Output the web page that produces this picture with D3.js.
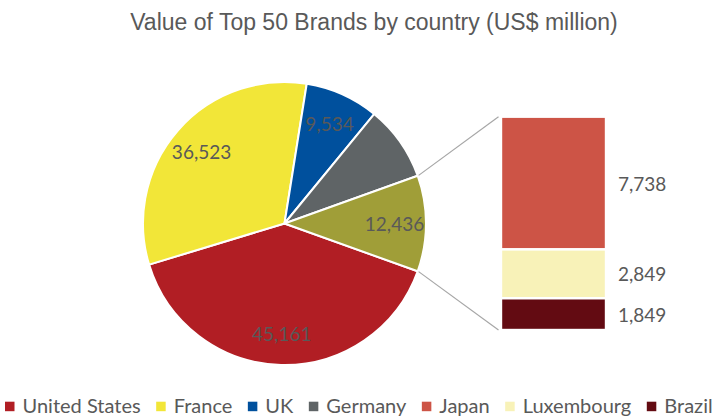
<!DOCTYPE html>
<html>
<head>
<meta charset="utf-8">
<script src="https://cdn.jsdelivr.net/npm/d3@7"></script>
<style>
  html, body { margin: 0; padding: 0; background: #fff; }
  svg { display: block; }
</style>
</head>
<body>
<svg id="chart" width="720" height="420"></svg>
<script>
// ---- data ----
const title = "Value of Top 50 Brands by country (US$ million)";
const pieCategories = ["United States", "France", "UK", "Germany", "Other"];
const pieValues = [45161, 36523, 9534, 9750, 12436];
const pieColors = ["#B11E24", "#F2E638", "#00509D", "#5F6466", "#A09E38"];
const pieLabelShown = [true, true, true, false, true];

const barCategories = ["Japan", "Luxembourg", "Brazil"];
const barValues = [7738, 2849, 1849];
const barColors = ["#CD5446", "#F8F2B8", "#630B12"];

const legendCategories = ["United States", "France", "UK", "Germany", "Japan", "Luxembourg", "Brazil"];
const legendColors = ["#B11E24", "#F2E638", "#00509D", "#5F6466", "#CD5446", "#F8F2B8", "#630B12"];

// ---- layout ----
const svg = d3.select("#chart");
const textColor = "#595959";
const fmt = d3.format(",");

svg.append("text")
  .attr("x", 374).attr("y", 30)
  .attr("text-anchor", "middle")
  .attr("font-family", "'Liberation Sans', Arial, sans-serif")
  .attr("font-size", 23)
  .attr("fill", textColor)
  .text(title);

// pie
const cx = 284.5, cy = 223.5, R = 141.5;
const total = d3.sum(pieValues);
const otherIdx = pieValues.length - 1;
const half = Math.PI * pieValues[otherIdx] / total;
const start = Math.PI / 2 + half;
const pie = d3.pie().sort(null).value(d => d).startAngle(start).endAngle(start + 2 * Math.PI);
const arcs = pie(pieValues);
const arc = d3.arc().innerRadius(0).outerRadius(R);
const labelArc = d3.arc().innerRadius(110).outerRadius(110);

const g = svg.append("g").attr("transform", `translate(${cx},${cy})`);
g.selectAll("path.slice").data(arcs).join("path")
  .attr("class", "slice")
  .attr("d", arc)
  .attr("fill", (d, i) => pieColors[i])
  .attr("stroke", "#fff")
  .attr("stroke-width", 2)
  .attr("stroke-linejoin", "round");

g.selectAll("text.lbl").data(arcs.filter((d, i) => pieLabelShown[i])).join("text")
  .attr("class", "lbl")
  .attr("transform", d => `translate(${labelArc.centroid(d)})`)
  .attr("text-anchor", "middle")
  .attr("dominant-baseline", "central")
  .attr("font-family", "Lato, 'Open Sans', sans-serif")
  .attr("font-size", 19)
  .attr("fill", textColor)
  .text(d => fmt(d.value));

// bar of "Other"
const barX = 501, barW = 105;
const barScale = d3.scaleLinear().domain([0, d3.sum(barValues)]).range([116.7, 330]);
const cum = d3.cumsum(barValues);
const barData = barValues.map((v, i) => ({ v, y0: cum[i] - v, y1: cum[i], i }));

svg.selectAll("rect.bar").data(barData).join("rect")
  .attr("class", "bar")
  .attr("x", barX)
  .attr("y", d => barScale(d.y0))
  .attr("width", barW)
  .attr("height", d => barScale(d.y1) - barScale(d.y0))
  .attr("fill", d => barColors[d.i])
  .attr("stroke", "#fff")
  .attr("stroke-width", 2.4);

svg.selectAll("text.barlbl").data(barData).join("text")
  .attr("class", "barlbl")
  .attr("x", barX + barW + 12)
  .attr("y", d => (barScale(d.y0) + barScale(d.y1)) / 2)
  .attr("dominant-baseline", "central")
  .attr("font-family", "Lato, 'Open Sans', sans-serif")
  .attr("font-size", 19)
  .attr("fill", textColor)
  .text(d => fmt(d.v));

// connector lines
const oa = arcs[otherIdx];
const ptOnPie = a => [cx + (R + 1) * Math.sin(a), cy - (R + 1) * Math.cos(a)];
const topStart = ptOnPie(oa.startAngle);
const botStart = ptOnPie(oa.endAngle);
const conns = [
  [topStart, [barX - 2.5, barScale(0)]],
  [botStart, [barX - 2.5, barScale(d3.sum(barValues))]]
];
svg.selectAll("line.conn").data(conns).join("line")
  .attr("class", "conn")
  .attr("x1", d => d[0][0]).attr("y1", d => d[0][1])
  .attr("x2", d => d[1][0]).attr("y2", d => d[1][1])
  .attr("stroke", "#A6A6A6")
  .attr("stroke-width", 1.2);

// legend: fit the row into the reference span (x 5 .. 713)
const legLeft = 5, legRight = 713, sq = 9.5, sqGap = 8, itemGap = 15.5;
const leg = svg.append("g");
const items = leg.selectAll("g.item").data(legendCategories).join("g").attr("class", "item");
items.append("rect")
  .attr("width", sq).attr("height", sq)
  .attr("y", 401.7)
  .attr("fill", (d, i) => legendColors[i]);
const legTexts = items.append("text")
  .attr("x", sq + sqGap)
  .attr("y", 413)
  .attr("font-family", "Lato, 'Open Sans', sans-serif")
  .attr("font-size", 21)
  .attr("fill", textColor)
  .text(d => d);
function textSum() {
  let s = 0; legTexts.each(function () { s += this.getComputedTextLength(); }); return s;
}
const fixed = legendCategories.length * (sq + sqGap) + (legendCategories.length - 1) * itemGap;
const fs = 21 * (legRight - legLeft - fixed) / textSum();
legTexts.attr("font-size", fs);
let xs = legLeft;
items.each(function () {
  const w = d3.select(this).select("text").node().getComputedTextLength();
  d3.select(this).attr("transform", `translate(${xs},0)`);
  xs += sq + sqGap + w + itemGap;
});
</script>
</body>
</html>
